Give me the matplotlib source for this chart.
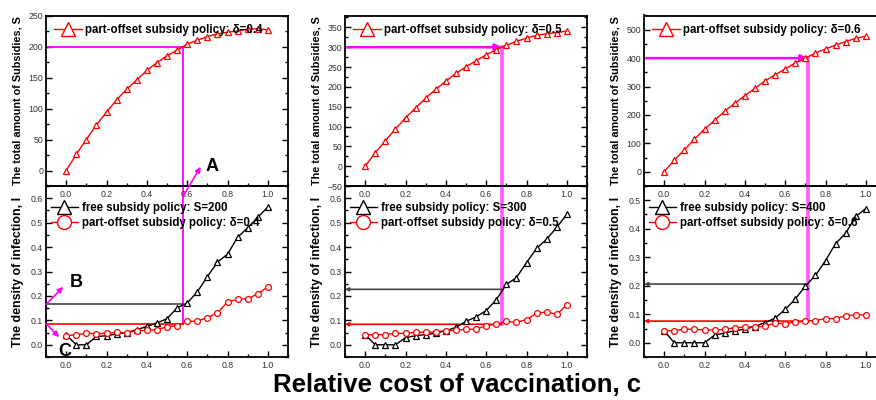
import matplotlib
matplotlib.use("Agg")
import matplotlib.pyplot as plt
from matplotlib.lines import Line2D
from matplotlib.ticker import MultipleLocator

plt.rcParams['font.family'] = ['Liberation Sans', 'DejaVu Sans']

# ---------------- data ----------------
c = [0.0, 0.05, 0.1, 0.15, 0.2, 0.25, 0.3, 0.35, 0.4, 0.45, 0.5,
     0.55, 0.6, 0.65, 0.7, 0.75, 0.8, 0.85, 0.9, 0.95, 1.0]

deltas = [0.4, 0.5, 0.6]
budgets = [200, 300, 400]

subs_d04 = [0, 26, 50, 73.5, 94, 114, 131, 146, 161.5, 174, 185,
            194, 204, 210, 216, 220.5, 223, 225, 228, 228.5, 227]
subs_d05 = [0, 33.7, 64, 93.4, 122, 147, 171.6, 193.5, 214.5, 234, 250.7,
            266, 281, 293.6, 305, 314.7, 323, 330, 334, 337, 340.7]
subs_d06 = [0, 41, 77, 115, 150, 181, 213, 241, 268, 294, 320,
            341, 362, 383, 400, 418, 432, 446, 458, 470, 477]

free_S200 = [0.041, 0.0, 0.0, 0.034, 0.037, 0.044, 0.05, 0.062, 0.075, 0.089, 0.107,
             0.151, 0.171, 0.216, 0.279, 0.338, 0.371, 0.44, 0.479, 0.522, 0.564]
part_d04 = [0.038, 0.041, 0.047, 0.045, 0.047, 0.051, 0.049, 0.058, 0.059, 0.062, 0.074,
            0.078, 0.096, 0.097, 0.111, 0.13, 0.175, 0.186, 0.189, 0.208, 0.238]

free_S300 = [0.041, 0.0, 0.0, 0.0, 0.029, 0.037, 0.042, 0.047, 0.058, 0.071, 0.096,
             0.114, 0.14, 0.184, 0.247, 0.275, 0.336, 0.395, 0.432, 0.481, 0.534]
part_d05 = [0.041, 0.041, 0.042, 0.047, 0.047, 0.051, 0.051, 0.053, 0.058, 0.059, 0.064,
            0.064, 0.078, 0.084, 0.096, 0.092, 0.103, 0.13, 0.134, 0.125, 0.163]

free_S400 = [0.042, 0.0, 0.0, 0.0, 0.0, 0.027, 0.034, 0.042, 0.048, 0.057, 0.071,
             0.086, 0.117, 0.153, 0.199, 0.236, 0.288, 0.348, 0.384, 0.443, 0.471]
part_d06 = [0.042, 0.042, 0.048, 0.047, 0.045, 0.045, 0.047, 0.053, 0.055, 0.056, 0.058,
            0.069, 0.067, 0.072, 0.076, 0.078, 0.085, 0.085, 0.095, 0.098, 0.098]

# crossing points (c*, free I level, part-offset I level)
c_star = [0.578, 0.678, 0.712]
I_free_level = [0.165, 0.227, 0.206]
I_part_level = [0.087, 0.084, 0.076]

subs_all = [subs_d04, subs_d05, subs_d06]
free_all = [free_S200, free_S300, free_S400]
part_all = [part_d04, part_d05, part_d06]

top_ylims = [(-25, 250), (-50, 380), (-50, 550)]
top_major = [50, 50, 100]
bot_ylims = [(-0.05, 0.65), (-0.05, 0.65), (-0.05, 0.55)]

# ---------------- layout ----------------
W, H = 876, 400
fig = plt.figure(figsize=(W / 100, H / 100), dpi=100)
lefts_px = [46, 345, 644]
width_px = 242
top_px, mid_px, bot_px = 15.5, 186, 357

MAG = '#ff00ff'
TICKC = '#333333'
TICKFS = 6.3
LEGFS = 8.3
MS = 4.2


def style(ax, major_y):
    ax.set_xlim(-0.1, 1.1)
    ax.xaxis.set_major_locator(MultipleLocator(0.2))
    ax.xaxis.set_minor_locator(MultipleLocator(0.1))
    ax.yaxis.set_major_locator(MultipleLocator(major_y))
    ax.yaxis.set_minor_locator(MultipleLocator(major_y / 2))
    ax.tick_params(axis='both', which='both', direction='in', right=True, top=False,
                   labelsize=TICKFS, labelcolor=TICKC, width=1.0)
    ax.tick_params(which='major', length=4)
    ax.tick_params(which='minor', length=2)
    ax.tick_params(axis='x', pad=3)
    ax.tick_params(axis='y', pad=2)
    for s in ax.spines.values():
        s.set_linewidth(1.3)


for i in range(3):
    l = lefts_px[i] / W
    w = width_px / W
    ax_t = fig.add_axes([l, 1 - mid_px / H, w, (mid_px - top_px) / H])
    ax_b = fig.add_axes([l, 1 - bot_px / H, w, (bot_px - mid_px) / H])
    ax_b.set_facecolor('none')
    ax_t.set_zorder(2)
    ax_t.set_facecolor('none')

    # ---- top panel ----
    ax_t.plot(c, subs_all[i], color='red', lw=1.0, marker='^', ms=MS,
              mfc='white', mec='red', mew=0.9, zorder=3)
    ax_t.set_ylim(*top_ylims[i])
    style(ax_t, top_major[i])
    ax_t.set_ylabel('The total amount of Subsidies, S', fontsize=7.8, fontweight='bold', labelpad=4)
    h = Line2D([], [], color='red', lw=1.0, marker='^', ms=10, mfc='white', mec='red', mew=1.0)
    ax_t.legend([h], ['part-offset subsidy policy: \u03b4=%.1f' % deltas[i]],
                loc='upper left', frameon=False, handlelength=2.4, handletextpad=0.3,
                borderaxespad=0.4, borderpad=0.3, prop={'weight': 'bold', 'size': LEGFS})

    # magenta guide lines in top panel
    S_lvl = budgets[i]
    lw_v = 1.3 if i == 0 else 2.6
    alpha_v = 1.0 if i == 0 else 0.65
    if i == 0:
        ax_t.plot([-0.1, c_star[i]], [S_lvl, S_lvl], color=MAG, lw=1.3, zorder=2)
    else:
        ax_t.annotate('', xy=(c_star[i], S_lvl), xytext=(-0.1, S_lvl),
                      arrowprops=dict(arrowstyle='-|>', color=MAG, lw=1.8,
                                      mutation_scale=10, shrinkA=0, shrinkB=0), zorder=2)
    ax_t.plot([c_star[i], c_star[i]], [top_ylims[i][0], S_lvl], color=MAG, lw=lw_v,
              alpha=alpha_v, zorder=2)

    # ---- bottom panel ----
    ax_b.plot(c, free_all[i], color='black', lw=1.0, marker='^', ms=MS,
              mfc='white', mec='black', mew=0.9, zorder=3)
    ax_b.plot(c, part_all[i], color='red', lw=1.0, marker='o', ms=MS,
              mfc='white', mec='red', mew=0.9, zorder=3)
    ax_b.set_ylim(*bot_ylims[i])
    style(ax_b, 0.1)
    ax_b.set_ylabel('The density of infection, I', fontsize=8.9, fontweight='bold', labelpad=5)
    hb = Line2D([], [], color='black', lw=1.0, marker='^', ms=10, mfc='white', mec='black', mew=1.0)
    hr = Line2D([], [], color='red', lw=1.0, marker='o', ms=10, mfc='white', mec='red', mew=1.0)
    ax_b.legend([hb, hr], ['free subsidy policy: S=%d' % budgets[i],
                           'part-offset subsidy policy: \u03b4=%.1f' % deltas[i]],
                loc='upper left', bbox_to_anchor=(0.0, 0.935), frameon=False,
                handlelength=2.4, handletextpad=0.3,
                borderaxespad=0.1, borderpad=0.3, labelspacing=0.25,
                prop={'weight': 'bold', 'size': LEGFS})

    ax_b.plot([c_star[i], c_star[i]], [bot_ylims[i][1], I_part_level[i]], color=MAG,
              lw=lw_v, alpha=alpha_v, zorder=2)
    if i == 0:
        ax_b.plot([-0.1, c_star[i]], [I_free_level[i]] * 2, color='#444444', lw=1.2, zorder=2)
        ax_b.plot([-0.1, c_star[i]], [I_part_level[i]] * 2, color='red', lw=1.2, zorder=2)
    else:
        ax_b.annotate('', xy=(-0.1, I_free_level[i]), xytext=(c_star[i], I_free_level[i]),
                      arrowprops=dict(arrowstyle='-|>', color='#444444', lw=1.2,
                                      mutation_scale=5, shrinkA=0, shrinkB=0), zorder=2)
        ax_b.annotate('', xy=(-0.1, I_part_level[i]), xytext=(c_star[i], I_part_level[i]),
                      arrowprops=dict(arrowstyle='-|>', color='red', lw=1.2,
                                      mutation_scale=5, shrinkA=0, shrinkB=0), zorder=2)

    if i == 0:
        ap = dict(arrowstyle='-|>', color=MAG, lw=1.2, mutation_scale=8, shrinkA=0, shrinkB=0)
        # A
        ax_t.annotate('', xy=(0.667, 6), xytext=(0.578, -42), arrowprops=ap,
                      annotation_clip=False, zorder=5)
        ax_t.text(0.725, 6, 'A', fontsize=13, fontweight='bold', ha='center', va='center',
                  clip_on=False, zorder=5)
        # B
        ax_b.annotate('', xy=(-0.015, 0.237), xytext=(-0.1, I_free_level[i]), arrowprops=ap,
                      annotation_clip=False, zorder=5)
        ax_b.text(0.048, 0.256, 'B', fontsize=13, fontweight='bold', ha='center', va='center',
                  zorder=5)
        # C
        ax_b.annotate('', xy=(-0.035, 0.031), xytext=(-0.1, I_part_level[i]), arrowprops=ap,
                      annotation_clip=False, zorder=5)
        ax_b.text(-0.005, -0.026, 'C', fontsize=13, fontweight='bold', ha='center', va='center',
                  zorder=5)

fig.text(0.522, 1 - 385 / H, 'Relative cost of vaccination, c', ha='center', va='center',
         fontsize=18.5, fontweight='bold')

fig.savefig('out.png', dpi=100)
